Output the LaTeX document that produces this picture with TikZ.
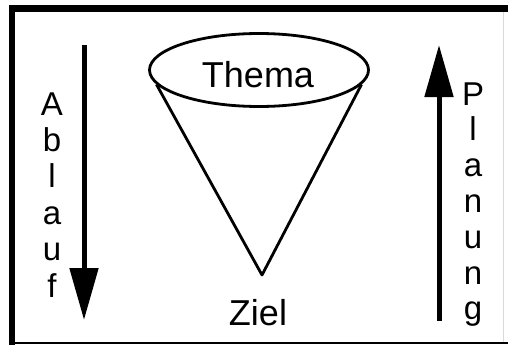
\documentclass[tikz,border=0pt]{standalone}
\usepackage{fontspec}
\setmainfont{Liberation Sans}
\usetikzlibrary{shapes.geometric,arrows.meta}
\begin{document}
\begin{tikzpicture}[x=1pt,y=-1pt,
  letter/.style={inner sep=0pt,anchor=base,font=\fontsize{33}{36}\selectfont},
  bigtext/.style={inner sep=0pt,anchor=base,font=\fontsize{36}{40}\selectfont},
  bigarrow/.style={line width=5pt,-{Triangle[length=52pt,width=28pt]}},
  conestroke/.style={line width=2.8pt,line join=round}]
\useasboundingbox (0,0) rectangle (508,345);
% frame
\draw[line width=7pt] (9,8.5) -- (508,8.5);
\draw[line width=6pt] (12,5) -- (12,345);
\draw[line width=2pt] (9,343) -- (508,343);
\draw[line width=1pt,black!15] (503,12) -- (503,342);
% cone
\node[ellipse,draw,conestroke,minimum width=219pt,minimum height=73pt,inner sep=0pt] (thema) at (259,70) {};
\node[bigtext] (thematext) at (258,87) {Thema};
\coordinate (apex) at (262,275);
\draw[conestroke] (thema.188) -- (apex) -- (thema.-8);
\node[bigtext] (ziel) at (258,325) {Ziel};
% arrows
\coordinate (ltop) at (84,45);
\coordinate (lbot) at (84,320);
\draw[bigarrow] (ltop) -- (lbot);
\coordinate (rbot) at (439,321);
\coordinate (rtop) at (439,45);
\draw[bigarrow] (rbot) -- (rtop);
% letters
\foreach \l [count=\i] in {A,b,l,a,u,f}
  \node[letter] (ab\i) at (52,{115+36.4*(\i-1)}) {\l};
\foreach \l [count=\i] in {P,l,a,n,u,n,g}
  \node[letter] (pl\i) at (473,{105+35.8*(\i-1)}) {\l};
\end{tikzpicture}
\end{document}
